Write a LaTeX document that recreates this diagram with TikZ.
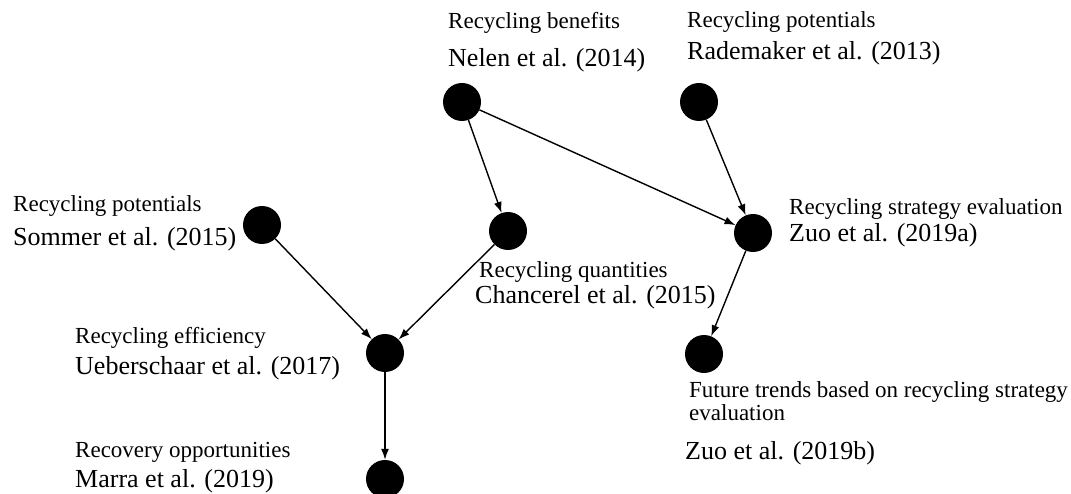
\documentclass[tikz,border=0pt]{standalone}
\usepackage{fontspec}
\setmainfont{Liberation Serif}
\usetikzlibrary{arrows.meta}
\tikzset{
  dot/.style={circle, fill=black, draw=none, minimum size=38pt, inner sep=0pt},
  topic/.style={anchor=base west, inner sep=0pt, font=\fontsize{23pt}{27pt}\selectfont},
  cite/.style={anchor=base west, inner sep=0pt, font=\fontsize{26pt}{30pt}\selectfont},
  link/.style={line width=1.4pt, -{Latex[length=11pt,width=8pt]}}
}
\begin{document}
\begin{tikzpicture}[x=1pt, y=-1pt]
\useasboundingbox (0,0) rectangle (1071,494);
% study nodes
\node[dot] (nelen) at (462,102) {};
\node[dot] (rademaker) at (699,102) {};
\node[dot] (sommer) at (262,225) {};
\node[dot] (chancerel) at (508,231) {};
\node[dot] (zuoa) at (753,233) {};
\node[dot] (ueber) at (385,353) {};
\node[dot] (zuob) at (704,354) {};
\node[dot] (marra) at (385,479) {};
% labels
\node[topic] (nelenT) at (448,29) {Recycling benefits};
\node[cite]  (nelenC) at (448,67) {Nelen et al. (2014)};
\node[topic] (rademakerT) at (687,28) {Recycling potentials};
\node[cite]  (rademakerC) at (687,60) {Rademaker et al. (2013)};
\node[topic] (sommerT) at (13,212) {Recycling potentials};
\node[cite]  (sommerC) at (13,246) {Sommer et al. (2015)};
\node[topic] (zuoaT) at (789,215) {Recycling strategy evaluation};
\node[cite]  (zuoaC) at (789,242) {Zuo et al. (2019a)};
\node[topic] (chancerelT) at (479,278) {Recycling quantities};
\node[cite]  (chancerelC) at (475,304) {Chancerel et al. (2015)};
\node[topic] (ueberT) at (75,343) {Recycling efficiency};
\node[cite]  (ueberC) at (75,374) {Ueberschaar et al. (2017)};
\node[topic] (marraT) at (75,457) {Recovery opportunities};
\node[cite]  (marraC) at (75,487) {Marra et al. (2019)};
\node[topic] (zuobT) at (689,397) {Future trends based on recycling strategy};
\node[topic] (zuobT2) at (689,420) {evaluation};
\node[cite]  (zuobC) at (685,459) {Zuo et al. (2019b)};
% links
\draw[link] (nelen) -- (chancerel);
\draw[link] (nelen) -- (zuoa);
\draw[link] (rademaker) -- (zuoa);
\draw[link] (sommer) -- (ueber);
\draw[link] (chancerel) -- (ueber);
\draw[link] (ueber) -- (marra);
\draw[link] (zuoa) -- (zuob);
\end{tikzpicture}
\end{document}
